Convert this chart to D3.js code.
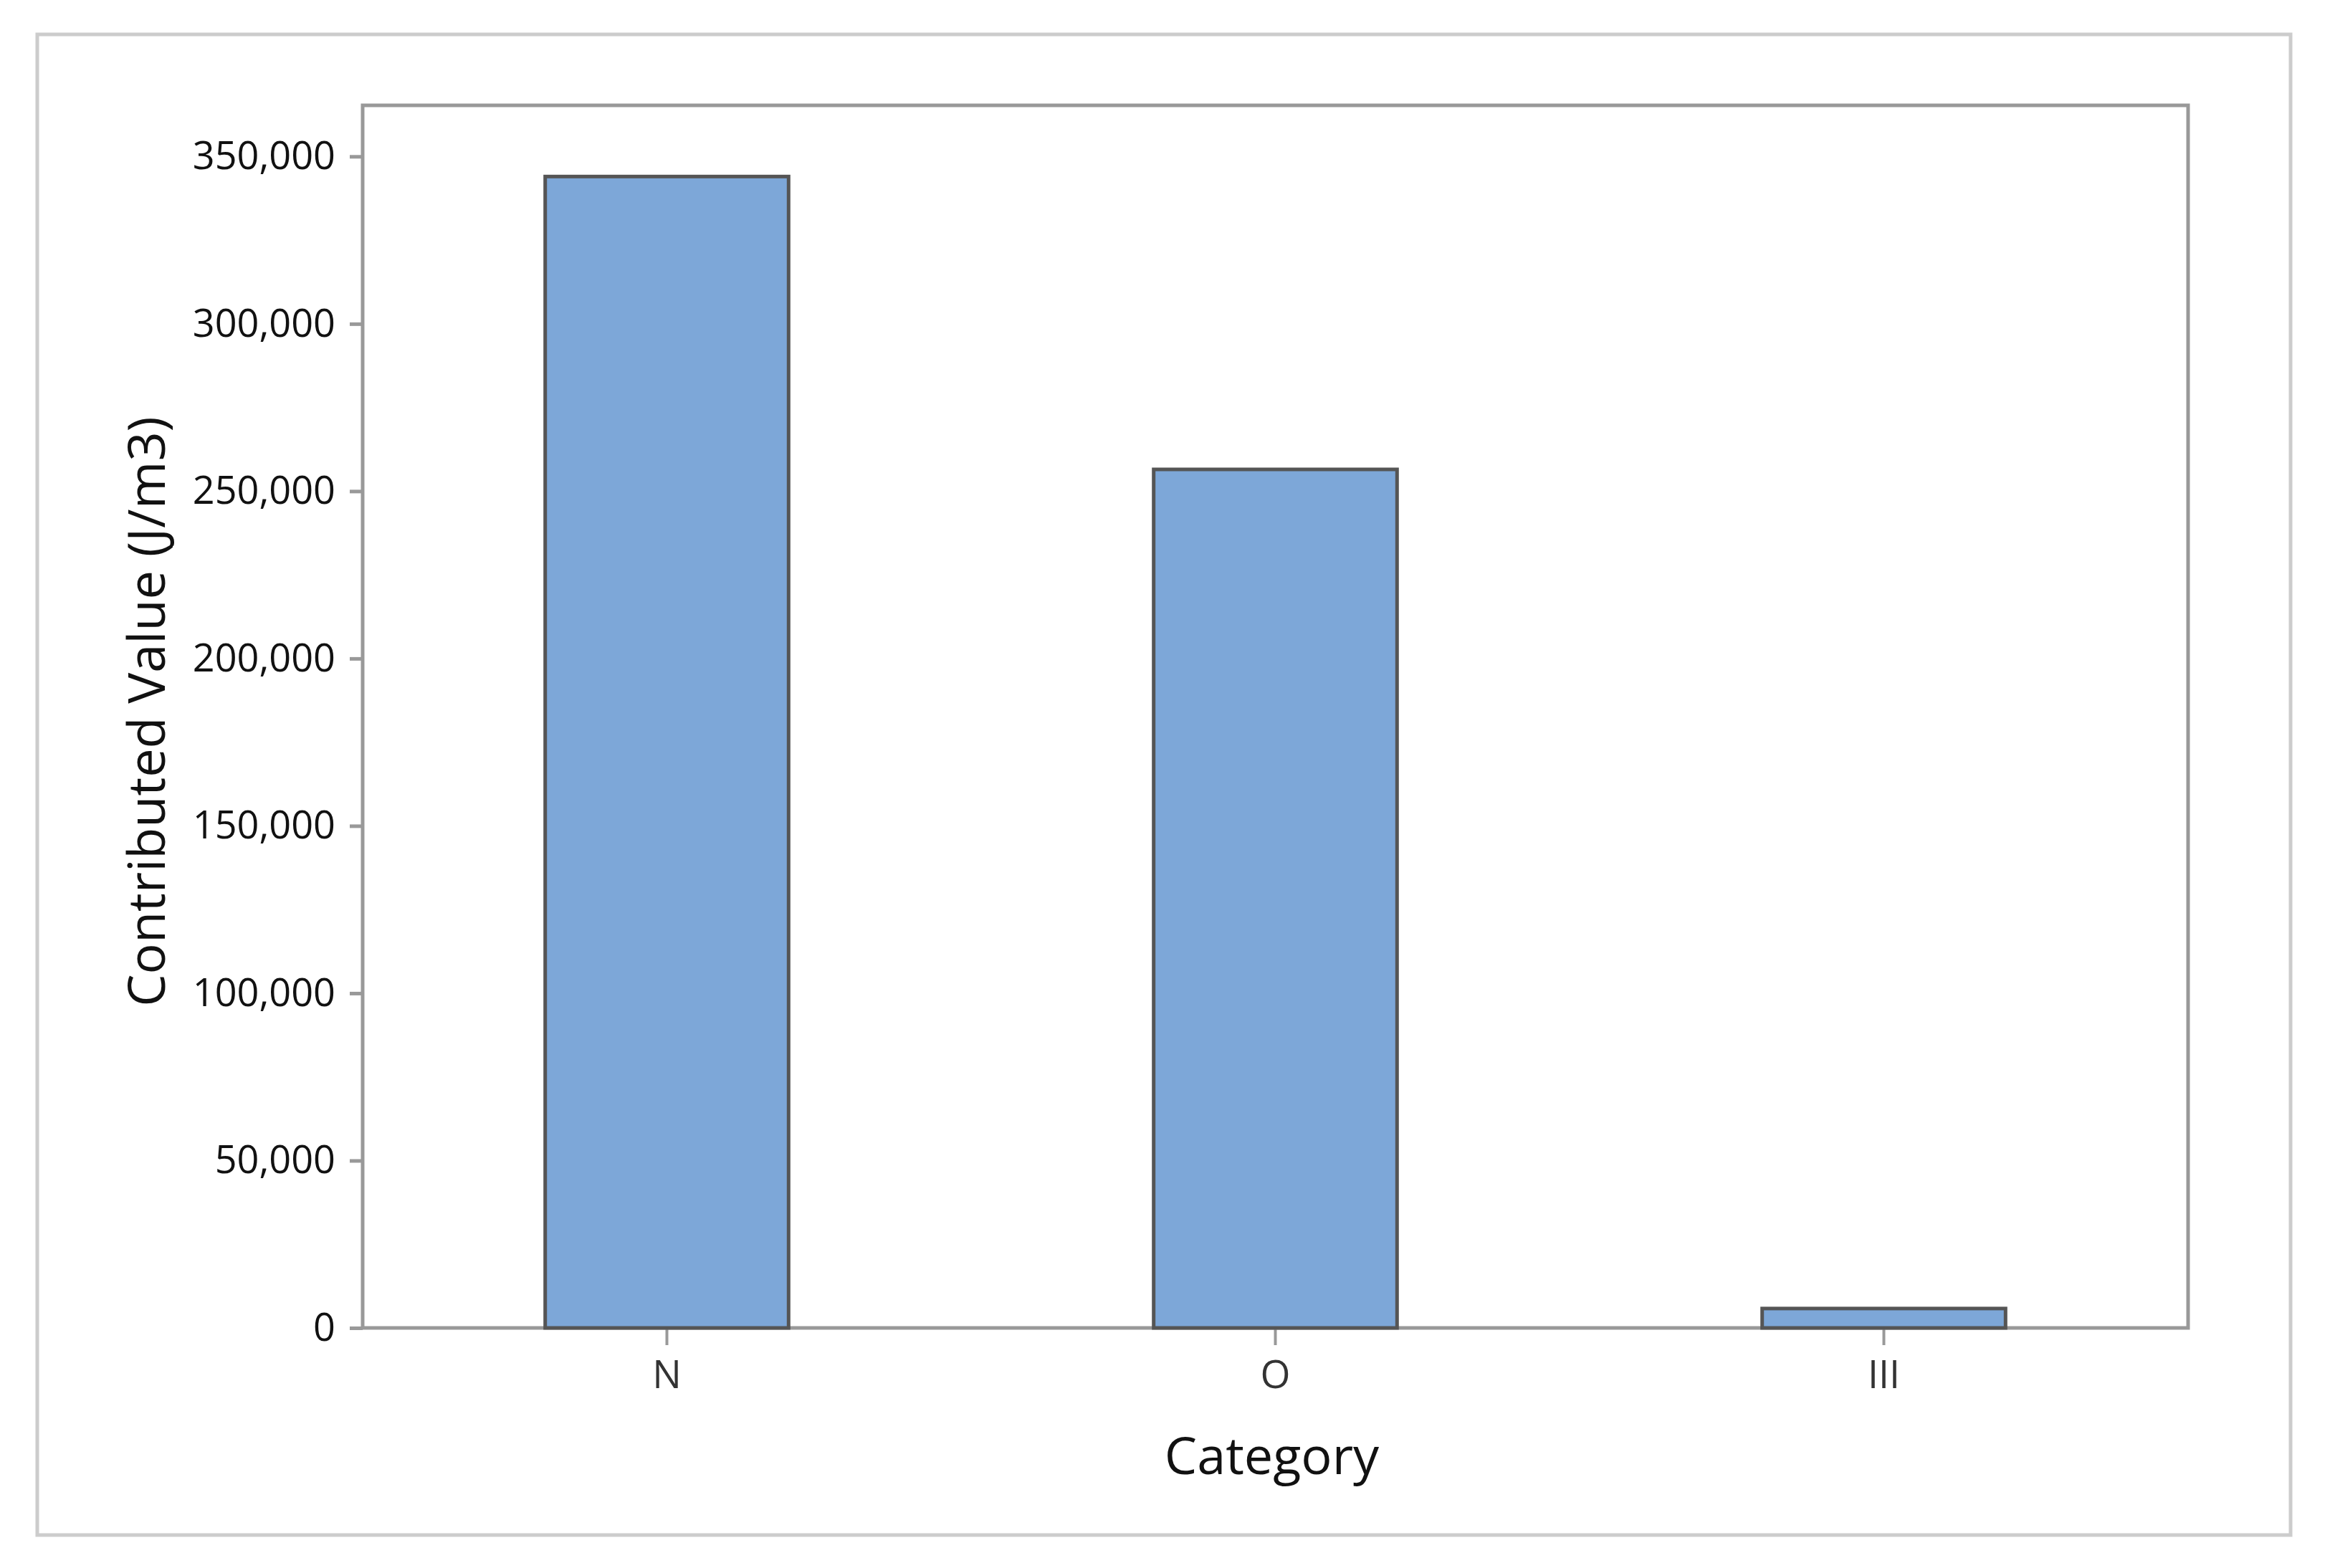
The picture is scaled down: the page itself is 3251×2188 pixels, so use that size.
<!DOCTYPE html>
<html>
<head>
<meta charset="utf-8">
<script src="https://cdn.jsdelivr.net/npm/d3@7"></script>
<style>
body { margin: 0; background: #fff; }
svg { display: block; font-family: "Open Sans", "Noto Sans", sans-serif; }
</style>
</head>
<body>
<svg id="graph"></svg>
<script>
var categories = ["N", "O", "III"];
var values = [344000, 256500, 5800];
var yTicks = [0, 50000, 100000, 150000, 200000, 250000, 300000, 350000];

var width = 3251, height = 2188;
var plotLeft = 506, plotRight = 3053, plotTop = 147, plotBottom = 1853;
var fontName = "'Open Sans', 'Noto Sans', sans-serif";

var svg = d3.select("#graph")
	.attr("width", width)
	.attr("height", height);

// outer frame
svg.append("rect")
	.attr("x", 52).attr("y", 48)
	.attr("width", 3196 - 52).attr("height", 2142 - 48)
	.style("fill", "none")
	.style("stroke", "#cccccc")
	.style("stroke-width", 5);

var xScale = d3.scaleBand().domain(categories).range([plotLeft, plotRight])
	.paddingInner(0.6).paddingOuter(0.3);
// 350,000 tick sits at y=218 in the reference, a bit under the frame top
var yMax = 350000 * (plotBottom - plotTop) / (plotBottom - 218.3);
var yScale = d3.scaleLinear().domain([0, yMax]).range([plotBottom, plotTop]);

var plot = svg.append("g");

// plot frame
plot.append("rect")
	.attr("x", plotLeft).attr("y", plotTop)
	.attr("width", plotRight - plotLeft).attr("height", plotBottom - plotTop)
	.style("fill", "none")
	.style("stroke", "#999999")
	.style("stroke-width", 5);

var yAxis = d3.axisLeft(yScale)
	.tickValues(yTicks)
	.tickFormat(d3.format(","))
	.tickSize(18)
	.tickPadding(20);
var gy = plot.append("g").attr("transform", "translate(" + plotLeft + ",0)").call(yAxis);
gy.attr("font-family", fontName);
gy.select(".domain").remove();
gy.selectAll("line").style("stroke", "#999999").style("stroke-width", 5);
gy.selectAll("text").style("font-size", "54px").style("fill", "#111");

var xAxis = d3.axisBottom(xScale).tickSize(24).tickPadding(22);
var gx = plot.append("g").attr("transform", "translate(0," + plotBottom + ")").call(xAxis);
gx.attr("font-family", fontName);
gx.select(".domain").remove();
gx.selectAll("line").style("stroke", "#999999").style("stroke-width", 4);
gx.selectAll("text").style("font-size", "54px").style("fill", "#333");

plot.selectAll(".bar")
	.data(values)
	.enter().append("rect")
	.attr("class", "bar")
	.attr("x", function(d, i){ return xScale(categories[i]); })
	.attr("y", function(d){ return yScale(d); })
	.attr("width", xScale.bandwidth())
	.attr("height", function(d){ return yScale(0) - yScale(d); })
	.style("fill", "#7da7d8")
	.style("stroke", "#555555")
	.style("stroke-width", 5);

svg.append("text")
	.attr("x", (plotLeft + plotRight) / 2 - 5)
	.attr("y", 2057)
	.attr("text-anchor", "middle")
	.style("font-size", "72px")
	.style("fill", "#111")
	.text("Category");

svg.append("text")
	.attr("transform", "translate(230," + 993 + ") rotate(-90)")
	.attr("text-anchor", "middle")
	.style("font-size", "72px")
	.style("fill", "#111")
	.text("Contributed Value (J/m3)");
</script>
</body>
</html>
